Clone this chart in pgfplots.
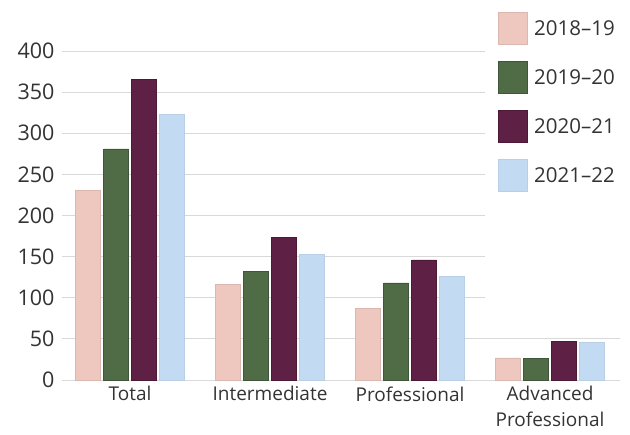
\documentclass[border=0pt]{standalone}
\usepackage{pgfplots}
\pgfplotsset{compat=1.18}
\usepackage{fontspec}
\setmainfont{Open Sans}

\definecolor{cPink}{HTML}{EEC8BE}
\definecolor{cGreen}{HTML}{506C47}
\definecolor{cMaroon}{HTML}{5F2045}
\definecolor{cBlue}{HTML}{C2DAF2}
\definecolor{cText}{HTML}{333333}
\definecolor{cGrid}{HTML}{D9D9D9}

\begin{document}
\begin{tikzpicture}
\begin{axis}[
  name=ax,
  scale only axis,
  width=558bp, height=329bp,
  xmin=-0.486, xmax=3.5,
  ymin=0, ymax=400,
  ytick={0,50,...,400},
  xtick={0,1,2,3},
  xticklabels={Total,Intermediate,Professional,{Advanced\\Professional}},
  xticklabel style={align=center, font=\fontsize{19bp}{26bp}\selectfont, text=cText, yshift=-3bp},
  yticklabel style={font=\fontsize{21.5bp}{24bp}\selectfont, text=cText, xshift=-4bp},
  /pgf/number format/assume math mode=true,
  major tick length=0pt,
  axis line style={draw=none},
  ymajorgrids,
  grid style={cGrid, line width=0.9bp},
  ybar=3bp,
  bar width=25bp,
  clip=false,
  legend cell align=left,
  legend style={
    at={(rel axis cs:0.775,1.125)}, anchor=north west,
    draw=none, fill=none,
    font=\fontsize{20.5bp}{24bp}\selectfont, text=cText,
    row sep=16.5bp,
    /tikz/every odd column/.style={column sep=5bp},
  },
  legend image code/.code={\fill[#1] (0bp,-16bp) rectangle (29bp,16bp);},
]
\addplot[fill=cPink, draw=cPink!92!black, line width=0.5bp]
  coordinates {(0,231) (1,116) (2,87) (3,27)};
\addplot[fill=cGreen, draw=cGreen!80!black, line width=0.6bp]
  coordinates {(0,281) (1,132) (2,118) (3,26)};
\addplot[fill=cMaroon, draw=cMaroon!80!black, line width=0.6bp]
  coordinates {(0,365) (1,173) (2,146) (3,47)};
\addplot[fill=cBlue, draw=cBlue!95!black, line width=0.5bp]
  coordinates {(0,323) (1,153) (2,126) (3,46)};
\legend{2018–19,2019–20,2020–21,2021–22}
% white panel behind the legend hides the upper grid lines
\fill[white] (rel axis cs:0.758,0.175) rectangle (rel axis cs:1.02,1.01);
\end{axis}
\pgfresetboundingbox
\path[use as bounding box] (ax.south west) ++(-62bp,-55bp) rectangle ++(630bp,435bp);
\end{tikzpicture}
\end{document}
